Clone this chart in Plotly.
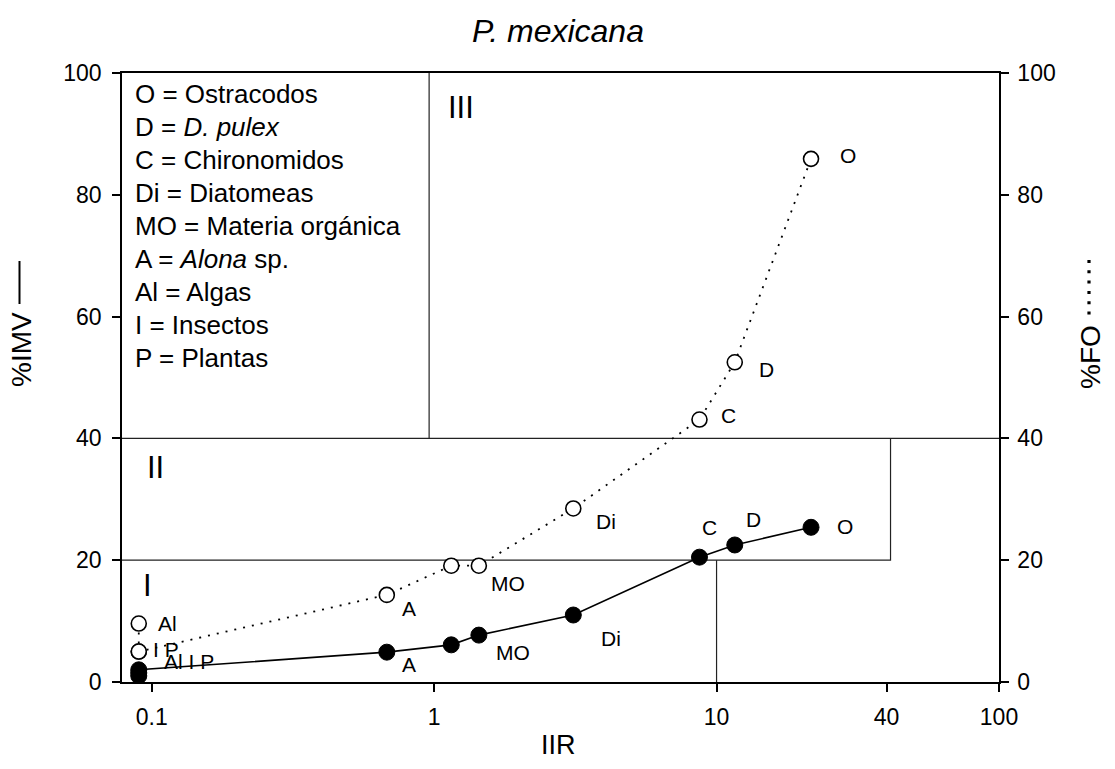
import numpy as np
import plotly.graph_objects as go

# ---------------- data ----------------
categories = ["Al", "I", "P", "A", "X", "MO", "Di", "C", "D", "O"]
iir = [0.09, 0.09, 0.09, 0.68, 1.15, 1.44, 3.11, 8.7, 11.6, 21.6]
imv = [1.0, 1.5, 2.0, 4.9, 6.1, 7.7, 11.0, 20.5, 22.5, 25.4]     # filled, %IMV
fo = [9.6, 5.0, 5.0, 14.3, 19.1, 19.1, 28.5, 43.1, 52.5, 85.9]   # open, %FO

x_ticks = [0.1, 1, 10, 40, 100]
x_ticktext = ["0.1", "1", "10", "40", "100"]
y_ticks = [0, 20, 40, 60, 80, 100]

legend_lines = [
    "O = Ostracodos",
    "D = <i>D. pulex</i>",
    "C = Chironomidos",
    "Di = Diatomeas",
    "MO = Materia orgánica",
    "A = <i>Alona</i> sp.",
    "Al = Algas",
    "I = Insectos",
    "P = Plantas",
]

# point labels: (index, text)
fo_labels = [(0, "Al"), (1, "I P"), (3, "A"), (5, "MO"), (6, "Di"), (7, "C"), (8, "D"), (9, "O")]
imv_labels = [(2, "Al I P"), (3, "A"), (5, "MO"), (6, "Di"), (7, "C"), (8, "D"), (9, "O")]

# region boundaries (quadrant lines)
x_I_II = 10
x_II_right = 41.3
x_III_left = 0.96
y_I = 20
y_II = 40

# ---------------- style / layout ----------------
FONT = "Liberation Sans, Arial, sans-serif"
W, H = 1115, 769
L, R, T, B = 122, 999, 73, 682
x_lo = 10 ** (-1 - (151.7 - L) / 282.5)


def px(xp):
    return (xp - L) / (R - L)


def py(yp):
    return (B - yp) / (B - T)


# label offsets (pixels): xshift, yshift
fo_off = {0: (17, 0), 1: (12, 2), 3: (13, -14), 5: (10, -18), 6: (21, -13),
          7: (20, 4), 8: (22, -7), 9: (27, 3)}
imv_off = {2: (23, 8), 3: (13, -12), 5: (15, -17), 6: (26, -23),
           7: (1, 30), 8: (9, 25), 9: (24, 1)}

fig = go.Figure()

# region lines
line_style = dict(color="#222", width=1.2)
fig.add_trace(go.Scatter(x=[x_lo, 100], y=[y_II, y_II], mode="lines", line=line_style,
                         hoverinfo="skip", showlegend=False))
fig.add_trace(go.Scatter(x=[x_lo, x_II_right, x_II_right], y=[y_I, y_I, y_II], mode="lines",
                         line=line_style, hoverinfo="skip", showlegend=False))
fig.add_trace(go.Scatter(x=[x_I_II, x_I_II], y=[0, y_I], mode="lines", line=line_style,
                         hoverinfo="skip", showlegend=False))
fig.add_trace(go.Scatter(x=[x_III_left, x_III_left], y=[y_II, 100], mode="lines", line=line_style,
                         hoverinfo="skip", showlegend=False))

# %IMV filled
fig.add_trace(go.Scatter(
    x=iir, y=imv, mode="lines+markers", name="%IMV",
    line=dict(color="black", width=1.6),
    marker=dict(symbol="circle", size=16, color="black", line=dict(color="black", width=1)),
    showlegend=False))

# %FO open
fig.add_trace(go.Scatter(
    x=iir, y=fo, mode="lines+markers", name="%FO", yaxis="y2",
    line=dict(color="black", width=1.8, dash="2px,7px"),
    marker=dict(symbol="circle", size=15, color="white", line=dict(color="black", width=1.6)),
    showlegend=False))

LBL = 21
annotations = []
for i, t in fo_labels:
    dx, dy = fo_off[i]
    annotations.append(dict(x=np.log10(iir[i]), y=fo[i], xref="x", yref="y", text=t,
                            showarrow=False, xanchor="left", yanchor="middle",
                            xshift=dx, yshift=dy, font=dict(family=FONT, size=LBL, color="black")))
for i, t in imv_labels:
    dx, dy = imv_off[i]
    annotations.append(dict(x=np.log10(iir[i]), y=imv[i], xref="x", yref="y", text=t,
                            showarrow=False, xanchor="left", yanchor="middle",
                            xshift=dx, yshift=dy, font=dict(family=FONT, size=LBL, color="black")))

# legend box text
for k, t in enumerate(legend_lines):
    annotations.append(dict(x=px(133), y=py(94 + 33.0 * k), xref="paper", yref="paper", text=t,
                            showarrow=False, xanchor="left", yanchor="middle",
                            font=dict(family=FONT, size=26, color="black")))

# roman numerals
for t, xp, yp in [("III", 446, 107), ("II", 145, 467), ("I", 141, 585)]:
    annotations.append(dict(x=px(xp), y=py(yp), xref="paper", yref="paper", text=t,
                            showarrow=False, xanchor="left", yanchor="middle",
                            font=dict(family=FONT, size=31, color="black")))

# titles
annotations.append(dict(x=px(558), y=py(31), xref="paper", yref="paper", text="<i>P. mexicana</i>",
                        showarrow=False, xanchor="center", yanchor="middle",
                        font=dict(family=FONT, size=32, color="black")))
annotations.append(dict(x=px(558), y=py(745), xref="paper", yref="paper", text="IIR",
                        showarrow=False, xanchor="center", yanchor="middle",
                        font=dict(family=FONT, size=27, color="black")))
annotations.append(dict(x=px(21), y=py(350), xref="paper", yref="paper", text="%IMV",
                        showarrow=False, xanchor="center", yanchor="middle", textangle=-90,
                        font=dict(family=FONT, size=28, color="black")))
annotations.append(dict(x=px(1090), y=py(357), xref="paper", yref="paper", text="%FO",
                        showarrow=False, xanchor="center", yanchor="middle", textangle=-90,
                        font=dict(family=FONT, size=28, color="black")))

shapes = [
    dict(type="line", xref="paper", yref="paper", x0=px(19.5), x1=px(19.5), y0=py(261), y1=py(304),
         line=dict(color="black", width=2)),
    dict(type="line", xref="paper", yref="paper", x0=px(1089), x1=px(1089), y0=py(260), y1=py(316),
         line=dict(color="black", width=3.2, dash="3px,7.3px")),
]

axis_common = dict(showline=True, linecolor="black", linewidth=1.5, ticks="outside",
                   ticklen=8, tickwidth=1.5, tickcolor="black", showgrid=False, zeroline=False,
                   tickfont=dict(family=FONT, size=23, color="black"))

fig.update_layout(
    width=W, height=H,
    margin=dict(l=L, r=W - R, t=T, b=H - B, pad=0),
    paper_bgcolor="white", plot_bgcolor="white",
    xaxis=dict(type="log", range=[np.log10(x_lo), 2], tickvals=x_ticks, ticktext=x_ticktext,
               mirror=True, ticklabelstandoff=6, **axis_common),
    yaxis=dict(range=[0, 100], tickvals=y_ticks, ticklabelstandoff=6, **axis_common),
    yaxis2=dict(range=[0, 100], tickvals=y_ticks, overlaying="y", side="right",
                ticklabelstandoff=4, **axis_common),
    annotations=annotations,
    shapes=shapes,
    showlegend=False,
)

fig.write_html("out.html")
